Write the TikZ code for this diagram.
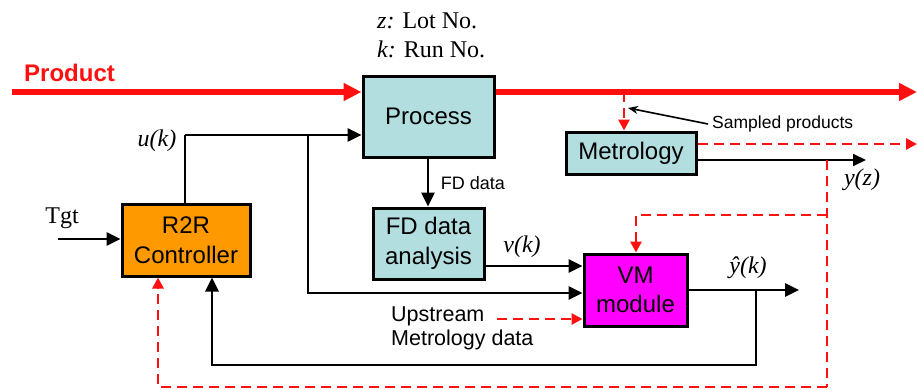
\documentclass[tikz,border=0pt]{standalone}
\usepackage{fontspec}
\setmainfont{Liberation Serif}
\setsansfont{Liberation Sans}
\usetikzlibrary{arrows.meta}
\definecolor{boxblue}{HTML}{B3DEDF}
\definecolor{boxorange}{HTML}{FF9900}
\definecolor{boxmag}{HTML}{FF00FF}
\definecolor{prodred}{HTML}{FF1010}
\tikzset{
  blk/.style={draw=black, line width=3pt, align=center, inner sep=0pt,
    font=\sffamily\fontsize{24}{29.5}\selectfont},
  conn/.style={draw=black, line width=2.8pt, -{Triangle[length=14pt,width=13pt]}},
  plain/.style={draw=black, line width=2.8pt},
  prod/.style={draw=prodred, line width=6.5pt, -{Triangle[length=18pt,width=17pt]}},
  rdash/.style={draw=prodred, line width=2.8pt, dash pattern=on 10pt off 6pt},
  rdarrow/.style={rdash, -{Triangle[length=11pt,width=11pt]}},
  lab/.style={font=\fontsize{24}{28}\selectfont, inner sep=0pt},
  slab/.style={font=\sffamily\fontsize{18}{22}\selectfont, inner sep=0pt},
}
\begin{document}
\begin{tikzpicture}[x=1pt,y=-1pt]
\useasboundingbox (0,0) rectangle (917,389);
% blocks
\node[blk, fill=boxblue, minimum width=131pt, minimum height=81pt] (proc) at (428.5,116.5) {Process};
\node[blk, fill=boxblue, minimum width=130pt, minimum height=42pt] (met) at (631,153) {Metrology};
\node[blk, fill=boxorange, minimum width=128pt, minimum height=72pt] (r2r) at (186,240) {R2R\\Controller};
\node[blk, fill=boxblue, minimum width=111pt, minimum height=71pt] (fda) at (428.5,243.5) {FD data\\analysis};
\node[blk, fill=boxmag, minimum width=103pt, minimum height=72pt] (vm) at (635.5,290) {VM\\module};
% coordinates
\coordinate (pstart) at (12,92);
\coordinate (pend) at (917,92);
\coordinate (tap) at (624,92);
\coordinate (metout) at (917,144);
\coordinate (yzend) at (866,160);
\coordinate (ujoin) at (185,135);
\coordinate (ubr) at (308,135);
\coordinate (tgt) at (58,239);
\coordinate (upst) at (497,319);
\coordinate (yhend) at (799,290);
\coordinate (fbk) at (756,290);
\coordinate (rv) at (827,160);
\coordinate (rbr) at (827,215);
\coordinate (rbot) at (827,387);
\coordinate (samp) at (628,108);
% texts
\node[lab, anchor=west] (zl) at (377,21) {\textit{z:} Lot No.};
\node[lab, anchor=west] (kl) at (377,49) {\textit{k:} Run No.};
\node[font=\sffamily\bfseries\fontsize{24}{28}\selectfont, text=prodred, anchor=west, inner sep=0pt] (prl) at (24,73) {Product};
\node[lab] (ul) at (157,141) {\textit{u(k)}};
\node[lab] (tl) at (62,218) {Tgt};
\node[slab] (fdl) at (473,183) {FD data};
\node[lab] (vl) at (522,247) {\textit{v(k)}};
\node[lab] (yhl) at (748,268) {\textit{ŷ(k)}};
\node[lab] (yzl) at (862,180) {\textit{y(z)}};
\node[font=\sffamily\fontsize{21.5}{24}\selectfont, align=left, anchor=west, inner sep=0pt] (upl) at (391,328) {Upstream\\Metrology data};
\node[font=\sffamily\fontsize{17.5}{21}\selectfont, anchor=west, inner sep=0pt] (spl) at (712,124) {Sampled products};
% product flow
\draw[prod] (pstart) -- (pstart -| proc.west);
\draw[prod] (pstart -| proc.east) -- (pend);
\draw[rdarrow] (tap) -- (tap |- met.north);
\draw[black, line width=1.6pt, -{Stealth[length=10pt,width=8pt]}] (spl.west) ++(-4,0) -- (samp);
% metrology outputs
\draw[rdarrow] (met.east |- metout) -- (metout);
\draw[black, line width=2pt, -{Triangle[length=13pt,width=12pt]}] (met.east |- yzend) -- (yzend);
% u(k)
\draw[plain] (r2r.north -| ujoin) -- (ujoin);
\draw[conn] (ujoin) -- (ujoin -| proc.west);
\draw[conn] (ubr) -- (ubr |- 0,293) -- (vm.west |- 0,293);
% Tgt
\draw[conn] (tgt) -- (tgt -| r2r.west);
% FD data
\draw[conn] (proc.south -| 428,0) -- (fda.north -| 428,0);
\draw[conn] (fda.east |- 0,266) -- (vm.west |- 0,266);
% upstream
\draw[rdarrow] (upst) -- (upst -| vm.west);
% y hat and feedback
\draw[conn] (vm.east |- yhend) -- (yhend);
\draw[conn] (fbk) -- (fbk |- 0,365) -- (212,365) -- (r2r.south -| 212,0);
% red dashed feedback
\draw[rdash] (rv) -- (rbot);
\draw[rdarrow] (rbot) -- (158,387) -- (r2r.south -| 158,0);
\draw[rdarrow] (rbr) -- (636,215) -- (vm.north -| 636,0);
\end{tikzpicture}
\end{document}
